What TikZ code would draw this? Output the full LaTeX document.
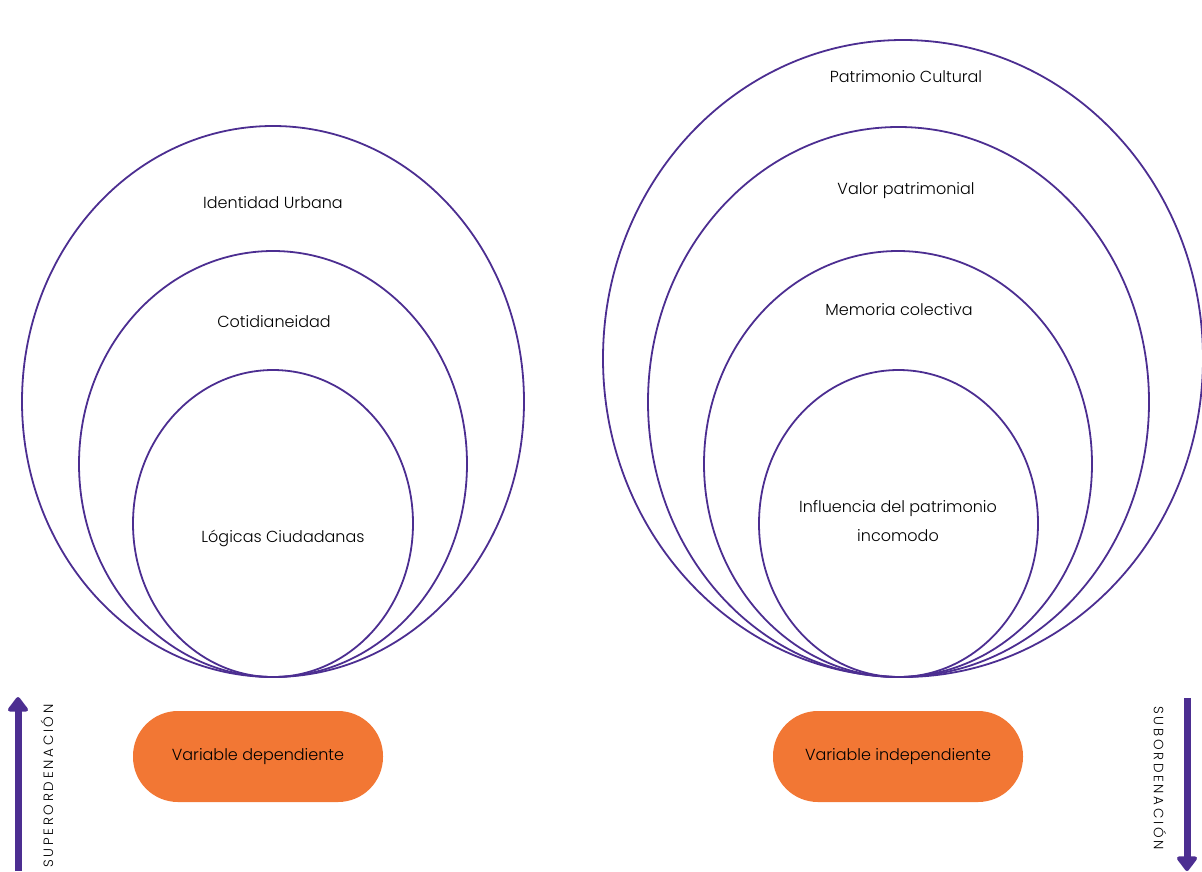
\documentclass[tikz,border=0pt]{standalone}
\usepackage{fontspec}
\setmainfont{Poppins}[UprightFont=* Light]
\usetikzlibrary{arrows.meta}
\definecolor{lila}{RGB}{76,46,145}
\definecolor{naranja}{RGB}{242,119,52}

\begin{document}
\begin{tikzpicture}[x=1pt,y=-1pt,
    aro/.style={draw=lila,line width=1.8pt},
    etiqueta/.style={font=\fontsize{16}{29}\selectfont,align=center,inner sep=0pt},
    pastilla/.style={fill=naranja,rounded corners=45pt,minimum width=250pt,minimum height=91pt,font=\fontsize{16}{20}\selectfont},
    vertical/.style={font=\fontsize{13.5}{14}\selectfont\addfontfeatures{LetterSpace=20},inner sep=0pt}]
    \useasboundingbox (0,0) rectangle (1202,871);
    % variable dependiente
    \draw[aro] (273,401.5) ellipse (251 and 275.5);
    \draw[aro] (273,464) ellipse (194 and 213);
    \draw[aro] (273,523.5) ellipse (140 and 153.5);
    \node[etiqueta] (ident) at (273,203) {Identidad Urbana};
    \node[etiqueta] (coti) at (274,322) {Cotidianeidad};
    \node[etiqueta] (logi) at (283,538) {Lógicas Ciudadanas};
    \node[pastilla] (dep) at (258,756.5) {Variable dependiente};
    % variable independiente
    \draw[aro] (903,358.5) ellipse (300 and 318.5);
    \draw[aro] (898.5,402) ellipse (250.5 and 275);
    \draw[aro] (898,464) ellipse (194 and 213);
    \draw[aro] (898.5,523.5) ellipse (139.5 and 153.5);
    \node[etiqueta] (patri) at (906,77) {Patrimonio Cultural};
    \node[etiqueta] (valor) at (906,191) {Valor patrimonial};
    \node[etiqueta] (memo) at (899,310) {Memoria colectiva};
    \node[etiqueta] (influ) at (898,521) {Influencia del patrimonio\\incomodo};
    \node[pastilla] (indep) at (898,756.5) {Variable independiente};
    % flechas
    \coordinate (s0) at (18,871);
    \coordinate (s1) at (18,697);
    \draw[lila,line width=7pt,-{Triangle[length=16pt,width=23pt,round]}] (s0) -- (s1);
    \node[rotate=90,vertical] (super) at (47,786) {SUPERORDENACIÓN};
    \coordinate (b0) at (1187,698);
    \coordinate (b1) at (1187,871);
    \draw[lila,line width=7pt,-{Triangle[length=16pt,width=23pt,round]}] (b0) -- (b1);
    \node[rotate=-90,vertical] (sub) at (1160,778) {SUBORDENACIÓN};
\end{tikzpicture}
\end{document}
